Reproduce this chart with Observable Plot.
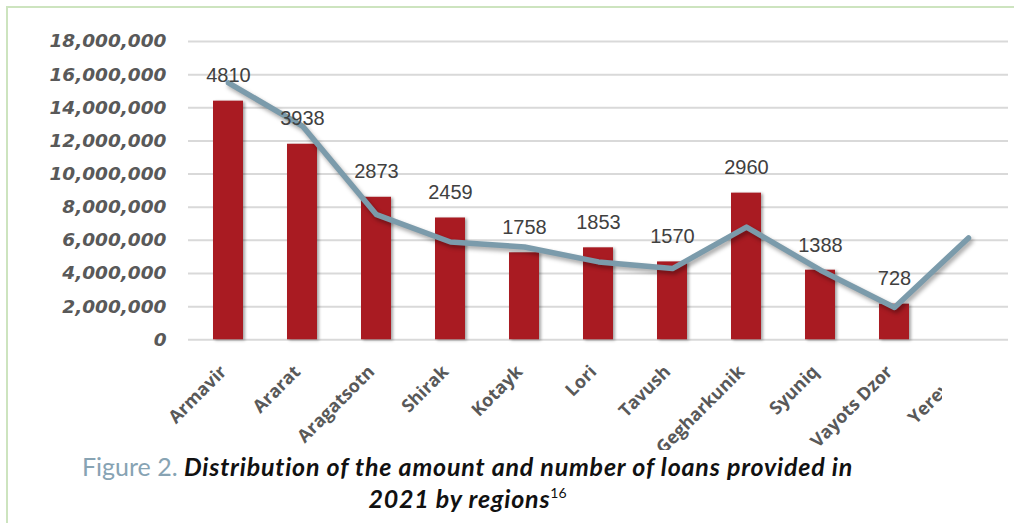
<!DOCTYPE html>
<html><head><meta charset="utf-8">
<script src="https://cdn.jsdelivr.net/npm/d3@7"></script>
<script src="https://cdn.jsdelivr.net/npm/@observablehq/plot@0.6"></script>
<style>
body{margin:0;background:#fff;}
#wrap{position:relative;width:1014px;height:523px;overflow:hidden;background:#fff;}
#frame{position:absolute;left:6px;top:6px;width:1100px;height:600px;border-left:2px solid #cde4bf;border-top:2px solid #cde4bf;}
#chart{position:absolute;left:0;top:0;}
#caption{position:absolute;left:0;top:451px;width:935px;text-align:center;font-family:Lato,"Open Sans",sans-serif;font-size:25px;line-height:31.5px;color:#111;}
#caption .fig{color:#87a3b3;font-style:normal;font-weight:normal;}
#caption .t{font-style:italic;font-weight:bold;letter-spacing:0.8px;}
#caption sup{font-size:14px;font-style:normal;font-weight:normal;vertical-align:10px;line-height:0;}
g[aria-label="bar"]{filter:drop-shadow(2px 1px 1.5px rgba(0,0,0,0.35));}
g[aria-label="line"]{filter:drop-shadow(2px 3px 2px rgba(0,0,0,0.35));}
</style>
</head><body>
<div id="wrap"><div id="frame"></div><div id="chart"></div>
<div id="caption"><span class="fig">Figure 2.</span> <span class="t">Distribution of the amount and number of loans provided in<br>2021 by regions</span><sup>16</sup></div>
</div>
<script>
const regions = ["Armavir","Ararat","Aragatsotn","Shirak","Kotayk","Lori","Tavush","Gegharkunik","Syuniq","Vayots Dzor","Yerevan"];
const loanAmounts = [14400000, 11800000, 8600000, 7350000, 5250000, 5550000, 4700000, 8850000, 4200000, 2150000, null];
const lineLevels = [15500000, 12900000, 7550000, 5900000, 5600000, 4700000, 4300000, 6800000, 4200000, 1950000, 6150000];
const loanCounts = [4810, 3938, 2873, 2459, 1758, 1853, 1570, 2960, 1388, 728, null];
const yTicks = [0, 2000000, 4000000, 6000000, 8000000, 10000000, 12000000, 14000000, 16000000, 18000000];
const countAxisMax = 6000;
const amountAxisMax = 18000000;

const data = regions.map((r, i) => ({region: r, amount: loanAmounts[i], level: lineLevels[i], count: loanCounts[i]}));
const labelled = data.filter(d => d.count != null);

const H = 450;
const chart = Plot.plot({
  width: 1014, height: H,
  marginLeft: 188, marginRight: 6, marginTop: 41, marginBottom: H - 339.3,
  x: {domain: regions, paddingInner: 0.6, paddingOuter: 0.3, label: null},
  y: {domain: [0, amountAxisMax], label: null},
  marks: [
    Plot.gridY(yTicks, {stroke: "#d9d9d9", strokeWidth: 2, strokeOpacity: 1}),
    Plot.barY(data.filter(d => d.amount != null), {x: "region", y: "amount", fill: "#a91b22"}),
    Plot.line(data, {x: "region", y: "level", stroke: "#7b9bab", strokeWidth: 5.5, strokeLinejoin: "round", strokeLinecap: "round"}),
    Plot.text(labelled, {x: "region", y: d => d.count * amountAxisMax / countAxisMax, text: d => String(d.count), dy: -25, lineAnchor: "middle", fontSize: 20, fill: "#404040", fontFamily: "Liberation Sans, Arial, sans-serif"}),
    Plot.axisY(yTicks, {tickSize: 0, tickPadding: 22, tickFormat: d3.format(","), fontSize: 18.5, fontWeight: "bold", fontStyle: "italic", fontFamily: "DejaVu Sans", fill: "#595959", label: null}),
    Plot.axisX({tickSize: 0, tickRotate: -45, tickPadding: 29, dx: -5, fontSize: 18, fontWeight: "bold", fontFamily: "Open Sans", fill: "#595959", label: null})
  ]
});
document.getElementById("chart").appendChild(chart);
const svg = d3.select(chart);
svg.append("defs").append("clipPath").attr("id", "xclip").append("rect").attr("x", 0).attr("y", 0).attr("width", 942).attr("height", H);
const yer = svg.selectAll("text").filter(function() { return this.textContent === "Yerevan"; });
yer.each(function() {
  const g = d3.select(this.parentNode);
  const wrapper = g.insert("g", null).attr("clip-path", "url(#xclip)");
});
// wrap the x tick label group in a clipped group
yer.each(function() {
  const labelGroup = this.parentNode;
  const clipG = document.createElementNS("http://www.w3.org/2000/svg", "g");
  clipG.setAttribute("clip-path", "url(#xclip)");
  labelGroup.parentNode.insertBefore(clipG, labelGroup);
  clipG.appendChild(labelGroup);
});
</script>
</body></html>
